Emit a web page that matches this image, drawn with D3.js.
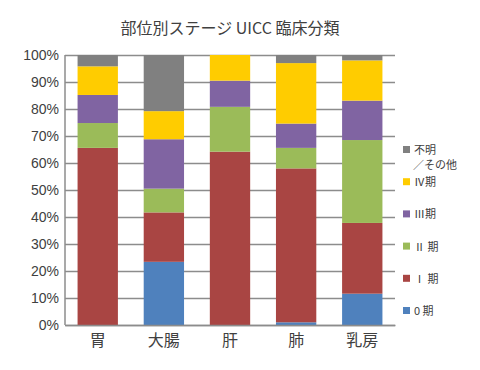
<!DOCTYPE html>
<html>
<head>
<meta charset="utf-8">
<script src="https://cdn.jsdelivr.net/npm/d3@7"></script>
<style>
  body { margin: 0; background: #fff; }
  text { font-family: "Noto Sans CJK JP", "Noto Sans", sans-serif; }
</style>
</head>
<body>
<div id="chart"></div>
<script>
// categories (sites)
const sites = ['胃', '大腸', '肝', '肺', '乳房'];
// stages bottom to top
const stages = ['0 期', 'Ⅰ 期', 'Ⅱ 期', 'Ⅲ期', 'Ⅳ期', '不明'];
const stage_colors = ['#4f81bd', '#a94543', '#9bbb59', '#8064a2', '#ffcc00', '#808080'];

// percentage per stage, one array per stage in site order
const stage0   = [0.0, 23.4, 0.0, 1.0, 11.6];
const stage1   = [65.6, 18.3, 64.2, 57.0, 26.2];
const stage2   = [9.2, 8.8, 16.6, 7.6, 30.7];
const stage3   = [10.4, 18.3, 9.7, 9.0, 14.6];
const stage4   = [10.6, 10.4, 9.5, 22.4, 14.9];
const unknown  = [4.2, 20.8, 0.0, 3.0, 2.0];

const y_ticks = [0, 10, 20, 30, 40, 50, 60, 70, 80, 90, 100];

const series_values = [stage0, stage1, stage2, stage3, stage4, unknown];
const rows = sites.map((site, i) => {
    const r = {site};
    stages.forEach((s, j) => { r[s] = series_values[j][i]; });
    return r;
});

const width = 480, height = 370;
const margin = {left: 65, right: 85, top: 55, bottom: 45};
const plot_width = width - margin.left - margin.right;
const plot_height = height - margin.top - margin.bottom;
const text_color = '#404040';
const grid_color = '#8c8c8c';

const svg = d3.select('#chart').append('svg')
    .attr('width', width)
    .attr('height', height);

svg.append('text')
    .attr('x', 230)
    .attr('y', 34)
    .attr('text-anchor', 'middle')
    .style('font-size', '16px')
    .style('fill', text_color)
    .text('部位別ステージ UICC 臨床分類');

const g = svg.append('g')
    .attr('transform', `translate(${margin.left},${margin.top})`);

const x_scale = d3.scaleBand().domain(sites).range([0, plot_width]).paddingInner(0.39).paddingOuter(0.19);
const y_scale = d3.scaleLinear().domain([0, 100]).range([plot_height, 0]);

// gridlines + y axis
const y_axis = d3.axisLeft(y_scale)
    .tickValues(y_ticks)
    .tickSizeInner(-plot_width)
    .tickSizeOuter(0)
    .tickPadding(6)
    .tickFormat(d => d + '%');

g.append('g')
    .attr('class', 'y axis')
    .call(y_axis)
    .call(a => a.select('.domain').remove())
    .call(a => a.selectAll('line').style('stroke', grid_color).style('stroke-width', 1.5))
    .selectAll('text')
    .style('fill', text_color)
    .style('font-size', '14px')
    .style('font-family', 'Arial, "Liberation Sans", sans-serif');

// left axis line
g.append('line')
    .attr('x1', 0).attr('x2', 0)
    .attr('y1', 0).attr('y2', plot_height)
    .style('stroke', grid_color).style('stroke-width', 1.5);

// stacked bars
const stacked = d3.stack().keys(stages)(rows);

g.append('g')
    .selectAll('g')
    .data(stacked)
    .enter()
    .append('g')
    .attr('fill', (d, i) => stage_colors[i])
    .selectAll('rect')
    .data(d => d)
    .enter()
    .append('rect')
    .attr('x', d => x_scale(d.data.site))
    .attr('width', x_scale.bandwidth())
    .attr('y', d => y_scale(d[1]))
    .attr('height', d => y_scale(d[0]) - y_scale(d[1]));

// bottom axis
const x_axis = d3.axisBottom(x_scale).tickSize(0).tickPadding(10);
g.append('g')
    .attr('class', 'x axis')
    .attr('transform', `translate(0,${plot_height})`)
    .call(x_axis)
    .call(a => a.select('.domain').style('stroke', grid_color).style('stroke-width', 1.5))
    .selectAll('text')
    .style('fill', text_color)
    .style('font-size', '16px');

// legend, top entry first
const legend_items = stages.map((s, i) => ({label: s, color: stage_colors[i]})).reverse();
const legend_y = d3.scalePoint().domain(legend_items.map(d => d.label)).range([150, 311]);

const legend = svg.append('g').attr('class', 'legend');
const item = legend.selectAll('g')
    .data(legend_items)
    .enter()
    .append('g')
    .attr('transform', d => `translate(403,${legend_y(d.label)})`);

item.append('rect')
    .attr('x', 0).attr('y', -4)
    .attr('width', 7).attr('height', 7)
    .attr('fill', d => d.color);

item.append('text')
    .attr('x', 11)
    .attr('y', 4)
    .style('font-size', '11px')
    .style('fill', text_color)
    .text(d => d.label);

legend.append('text')
    .attr('x', 413)
    .attr('y', 169)
    .style('font-size', '11px')
    .style('fill', text_color)
    .text('／その他');
</script>
</body>
</html>
